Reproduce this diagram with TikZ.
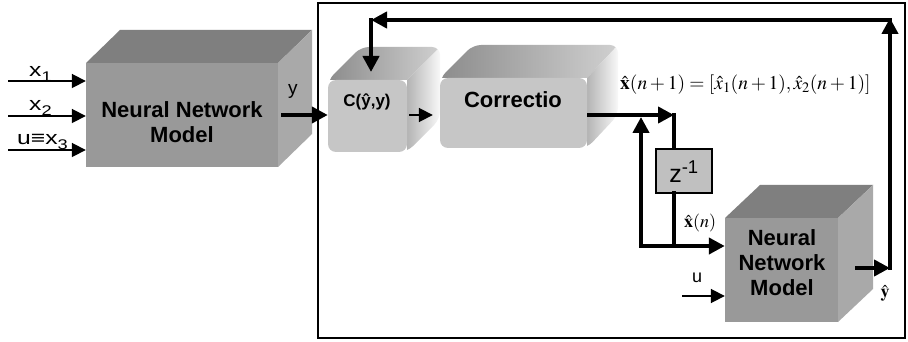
\documentclass[tikz,border=0pt]{standalone}
\usepackage{mathptmx}
\usepackage{fontspec}
\setmainfont{Liberation Serif}
\setsansfont{Liberation Sans}
\newfontfamily\widesans[FakeStretch=1.3]{Liberation Sans}
\usetikzlibrary{arrows.meta}
\definecolor{nntop}{HTML}{7F7F7F}
\definecolor{nnfront}{HTML}{999999}
\definecolor{nnside}{HTML}{A9A9A9}
\definecolor{rfront}{HTML}{C6C6C6}
\definecolor{rtopL}{HTML}{8C8C8C}
\definecolor{rtopR}{HTML}{D0D0D0}
\definecolor{rsideL}{HTML}{B4B4B4}
\definecolor{rsideR}{HTML}{F8F8F8}
\definecolor{zfill}{HTML}{C0C0C0}
\newcommand\lowsub[1]{\raisebox{-0.4ex}{\fontsize{14}{14}\selectfont #1}}
\begin{document}
\begin{tikzpicture}[x=1pt,y=-1pt,
  fat/.style={line width=4.3pt,line cap=rect},
  fatarrow/.style={line width=4.3pt,line cap=rect,-{Triangle[length=16pt,width=16pt]}},
  thinarrow/.style={line width=1.8pt,-{Triangle[length=14pt,width=14pt]}},
  lab/.style={font=\widesans\fontsize{19}{19}\selectfont,inner sep=0pt},
  smlab/.style={font=\sffamily\fontsize{18}{18}\selectfont,inner sep=0pt},
  bigtext/.style={font=\sffamily\bfseries\fontsize{22}{25}\selectfont,align=center,inner sep=0pt},
  cubefront/.style={fill=nnfront,inner sep=0pt},
  roundfront/.style={fill=rfront,rounded corners=8pt,inner sep=0pt},
  mathlab/.style={inner sep=0pt}]
\useasboundingbox (0,0) rectangle (908,342);
\fill[white] (0,0) rectangle (908,342);

% outer frame
\draw[line width=1.6pt] (318,3) rectangle (905,338);

% ---- Neural Network Model 1 (cube)
\fill[nntop] (86,63) -- (120,30) -- (312,30) -- (278,63) -- cycle;
\fill[nnside] (278,63) -- (312,30) -- (312,134) -- (278,167) -- cycle;
\node[cubefront,minimum width=192pt,minimum height=104pt] (nn1) at (182,115) {};
\node[bigtext] (nn1t) at (182,122) {Neural Network\\Model};

% ---- C box (rounded)
\begin{scope}
\clip[rounded corners=8pt] (328,80) -- (361,47) -- (440,47) -- (440,119) -- (407,152) -- (328,152) -- cycle;
\shade[left color=rtopL,right color=rtopR] (328,80) -- (361,47) -- (440,47) -- (407,80) -- cycle;
\shade[left color=rsideL,right color=rsideR] (407,80) -- (440,47) -- (440,119) -- (407,152) -- cycle;
\end{scope}
\node[roundfront,minimum width=79pt,minimum height=72pt] (cbox) at (367.5,116) {};
\node[font=\sffamily\bfseries\fontsize{17}{17}\selectfont,inner sep=0pt] (ct) at (367,102) {C(ŷ,y)};

% ---- Correctio box (rounded)
\begin{scope}
\clip[rounded corners=8pt] (440,78) -- (473,45) -- (618,45) -- (618,115) -- (587,148) -- (440,148) -- cycle;
\shade[left color=rtopL,right color=rtopR] (440,78) -- (473,45) -- (618,45) -- (587,78) -- cycle;
\shade[left color=rsideL,right color=rsideR] (587,78) -- (618,45) -- (618,115) -- (587,148) -- cycle;
\end{scope}
\node[roundfront,minimum width=147pt,minimum height=70pt] (corr) at (513.5,113) {};
\node[bigtext] (corrt) at (513,100) {Correctio};

% ---- z^-1 box
\node[draw,line width=1.3pt,fill=zfill,minimum width=56pt,minimum height=44pt,inner sep=0pt] (zbox) at (684,171) {};
\node[font=\sffamily\fontsize{25}{25}\selectfont,inner sep=0pt] (zt) at (684,172) {z\textsuperscript{-1}};

% ---- Neural Network Model 2 (cube)
\fill[nntop] (725,218) -- (760,185) -- (873,185) -- (838,218) -- cycle;
\fill[nnside] (838,218) -- (873,185) -- (873,289) -- (838,322) -- cycle;
\node[cubefront,minimum width=113pt,minimum height=104pt] (nn2) at (781.5,270) {};
\node[bigtext] (nn2t) at (782,263) {Neural\\Network\\Model};

% ---- inputs of NN1
\coordinate (i1) at (8,81);
\coordinate (i2) at (8,116);
\coordinate (i3) at (8,150);
\draw[thinarrow] (i1) -- (i1 -| nn1.west);
\draw[thinarrow] (i2) -- (i2 -| nn1.west);
\draw[thinarrow] (i3) -- (i3 -| nn1.west);
\node[lab,anchor=base west] (lx1) at (29,77) {x\lowsub{1}};
\node[lab,anchor=base west] (lx2) at (29,111) {x\lowsub{2}};
\node[lab,anchor=base west] (lx3) at (17,145) {u≡x\lowsub{3}};

% ---- y output
\coordinate (yo) at (283,115);
\draw[fatarrow] (yo) -- (yo -| cbox.west);
\node[smlab,font=\sffamily\fontsize{19}{19}\selectfont,anchor=base west] (ly) at (288,95) {y};

% ---- C -> Correctio
\coordinate (ca) at (409,115);
\draw[thinarrow,shorten >=7pt] (ca) -- (ca -| corr.west);

% ---- Correctio -> z^-1
\coordinate (co) at (589,115);
\coordinate (jn) at (674,115);
\draw[fatarrow] (co) -- (jn);
\draw[fat] (jn) -- (jn |- zbox.north);

% ---- z^-1 -> NN2 and loop back
\coordinate (jb) at (674,246);
\coordinate (lc) at (641,246);
\coordinate (lt) at (641,117);
\draw[fat] (jn |- zbox.south) -- (jb);
\draw[fatarrow] (lc) -- (lc -| nn2.west);
\draw[fatarrow] (lc) -- (lt);

% ---- u into NN2
\coordinate (ui) at (682,296);
\draw[thinarrow] (ui) -- (ui -| nn2.west);
\node[smlab,anchor=base west] (lu) at (692,282) {u};

% ---- NN2 output feedback
\coordinate (yh) at (857,268);
\coordinate (fr) at (890,268);
\coordinate (ft) at (890,18);
\coordinate (fc) at (890,20);
\coordinate (fl) at (371,20);
\coordinate (ctop) at (371,72);
\draw[fatarrow] (yh) -- (fr);
\draw[fatarrow] (fr) -- (ft);
\draw[fatarrow] (fc) -- (fl);
\draw[fatarrow] (fl) -- (ctop);

% ---- math labels
\node[mathlab,font=\fontsize{19.5}{20}\selectfont,anchor=west] (lxn1) at (620,85) {$\hat{\mathbf{x}}(n+1)=[\hat{x}_1(n+1),\hat{x}_2(n+1)]$};
\node[mathlab,font=\fontsize{18}{18}\selectfont] (lxn) at (700,223) {$\hat{\mathbf{x}}(n)$};
\node[mathlab,font=\fontsize{18}{18}\selectfont] (lyh) at (885,293) {$\hat{\mathbf{y}}$};
\end{tikzpicture}
\end{document}
